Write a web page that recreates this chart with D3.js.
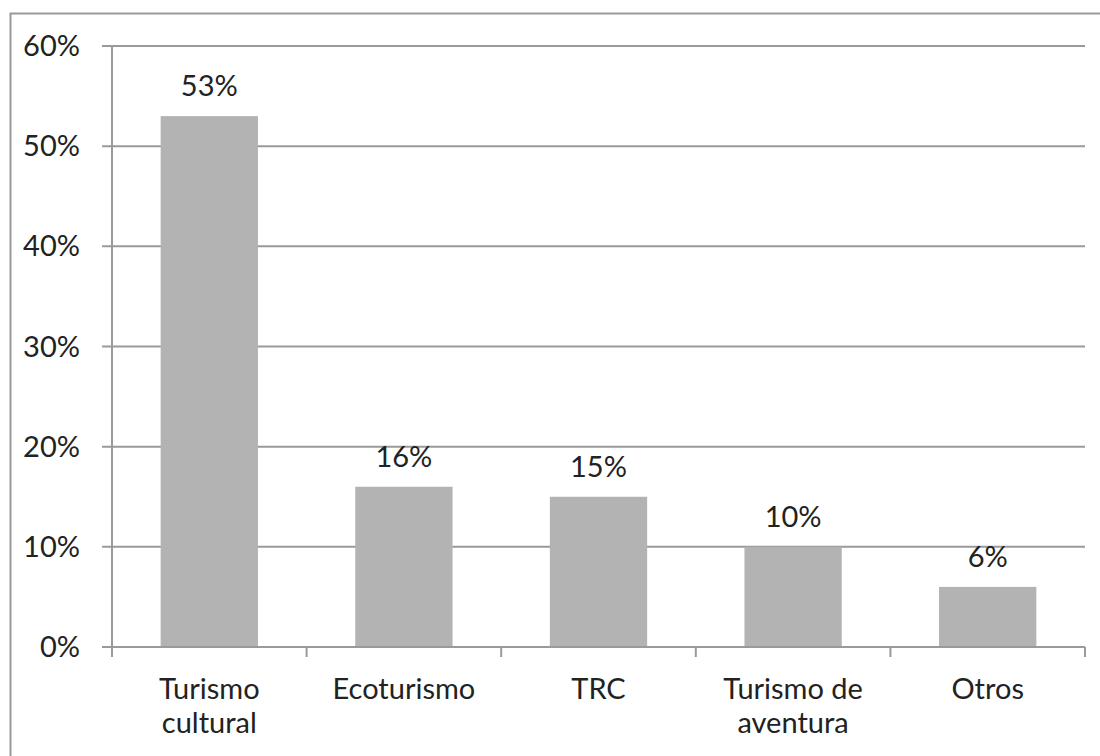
<!DOCTYPE html>
<html>
<head>
<meta charset="utf-8">
<style>
    body { margin: 0; background: #fff; }
    svg { display: block; }
    text { font-family: Lato, "Open Sans", sans-serif; fill: #222; }
</style>
</head>
<body>
<script src="https://d3js.org/d3.v7.min.js"></script>
<script>
    var categories = [["Turismo", "cultural"], ["Ecoturismo"], ["TRC"], ["Turismo de", "aventura"], ["Otros"]];
    var values = [0.53, 0.16, 0.15, 0.10, 0.06];
    var yTicks = [0, 0.1, 0.2, 0.3, 0.4, 0.5, 0.6];

    var width = 1100, height = 756;
    var svg = d3.select("body").append("svg")
        .attr("width", width)
        .attr("height", height);

    // outer frame
    svg.append("rect")
        .attr("x", 10.5).attr("y", 13.5)
        .attr("width", 1100).attr("height", 800)
        .attr("fill", "none")
        .attr("stroke", "#999")
        .attr("stroke-width", 2);

    var plotLeft = 112, plotRight = 1085, plotTop = 46, plotBottom = 647;

    var x = d3.scaleBand()
        .domain(d3.range(categories.length))
        .range([plotLeft, plotRight])
        .paddingInner(0.5)
        .paddingOuter(0.25);

    var y = d3.scaleLinear()
        .domain([0, 0.6])
        .range([plotBottom, plotTop]);

    var fs = 29;

    // gridlines + y labels
    var grid = svg.append("g");
    grid.selectAll("line")
        .data(yTicks)
        .enter().append("line")
        .attr("x1", plotLeft - 10)
        .attr("x2", plotRight)
        .attr("y1", function(d) { return y(d); })
        .attr("y2", function(d) { return y(d); })
        .attr("stroke", "#9a9a9a")
        .attr("stroke-width", 2);

    grid.selectAll("text")
        .data(yTicks)
        .enter().append("text")
        .attr("x", 80)
        .attr("y", function(d) { return y(d) + 10; })
        .attr("text-anchor", "end")
        .attr("font-size", fs)
        .text(function(d) { return Math.round(d * 100) + "%"; });

    // y axis line
    svg.append("line")
        .attr("x1", plotLeft).attr("x2", plotLeft)
        .attr("y1", plotTop).attr("y2", plotBottom)
        .attr("stroke", "#9a9a9a")
        .attr("stroke-width", 2);

    // bars
    svg.append("g").selectAll("rect")
        .data(values)
        .enter().append("rect")
        .attr("x", function(d, i) { return x(i); })
        .attr("y", function(d) { return y(d); })
        .attr("width", x.bandwidth())
        .attr("height", function(d) { return y(0) - y(d); })
        .attr("fill", "#b3b3b3");

    // x axis with ticks at category boundaries
    svg.append("line")
        .attr("x1", plotLeft).attr("x2", plotRight)
        .attr("y1", plotBottom).attr("y2", plotBottom)
        .attr("stroke", "#9a9a9a")
        .attr("stroke-width", 2);

    var step = x.step();
    svg.append("g").selectAll("line")
        .data(d3.range(categories.length + 1))
        .enter().append("line")
        .attr("x1", function(i) { return plotLeft + i * step; })
        .attr("x2", function(i) { return plotLeft + i * step; })
        .attr("y1", plotBottom)
        .attr("y2", plotBottom + 10)
        .attr("stroke", "#9a9a9a")
        .attr("stroke-width", 2);

    // value labels
    svg.append("g").selectAll("text")
        .data(values)
        .enter().append("text")
        .attr("x", function(d, i) { return x(i) + x.bandwidth() / 2; })
        .attr("y", function(d) { return y(d) - 20; })
        .attr("text-anchor", "middle")
        .attr("font-size", fs)
        .text(function(d) { return Math.round(d * 100) + "%"; });

    // category labels
    var cat = svg.append("g").selectAll("text")
        .data(categories)
        .enter().append("text")
        .attr("text-anchor", "middle")
        .attr("font-size", fs)
        .attr("x", function(d, i) { return x(i) + x.bandwidth() / 2; })
        .attr("y", 699);

    cat.selectAll("tspan")
        .data(function(d) { return d; })
        .enter().append("tspan")
        .attr("x", function() { return d3.select(this.parentNode).attr("x"); })
        .attr("dy", function(d, i) { return i === 0 ? 0 : 34; })
        .text(function(d) { return d; });
</script>
</body>
</html>
